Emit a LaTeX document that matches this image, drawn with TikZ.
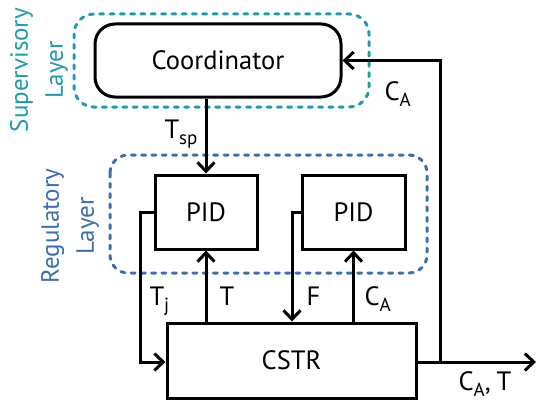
\documentclass[tikz,border=0pt]{standalone}
\usepackage{fontspec}
\setmainfont{PT Sans}
\usetikzlibrary{arrows.meta}
\definecolor{supcol}{HTML}{1E9BB0}
\definecolor{regcol}{HTML}{3B6FAF}
% variable with a lowered subscript
\newcommand{\var}[2]{#1\raisebox{-6pt}{\fontsize{19}{19}\selectfont #2}}

\begin{document}
\begin{tikzpicture}[x=1pt, y=-1pt, line width=3pt,
  font=\fontsize{26.5}{30}\selectfont,
  blockbox/.style={draw, line width=3pt, inner sep=0pt},
  layerbox/.style={line width=3pt, dash pattern=on 4pt off 6.3pt, line cap=round, rounded corners=20pt},
  flow/.style={line width=3pt, -{Straight Barb[length=9pt, width=17pt, line width=3pt]}},
  tag/.style={anchor=base west, inner sep=0pt},
  layertext/.style={rotate=90, align=center, font=\fontsize{25}{35}\selectfont}]
  \useasboundingbox (0,0) rectangle (537,404);

  % supervisory and regulatory layers
  \draw[layerbox, supcol] (74,14) rectangle (369,107);
  \draw[layerbox, regcol, rounded corners=18pt] (110,155) rectangle (427,273);
  \node[layertext, text=supcol] (suplbl) at (39,70) {Supervisory\\Layer};
  \node[layertext, text=regcol] (reglbl) at (70,226) {Regulatory\\Layer};

  % blocks
  \node[blockbox, rounded corners=20pt, minimum width=246pt, minimum height=73pt] (coord) at (218,60.5) {Coordinator};
  \node[blockbox, minimum width=102pt, minimum height=74pt] (pidT) at (206,212) {PID};
  \node[blockbox, minimum width=103pt, minimum height=74pt] (pidC) at (353.5,212) {PID};
  \node[blockbox, minimum width=249pt, minimum height=75pt] (cstr) at (291.5,360.5) {CSTR};

  % routing points
  \coordinate (tjbend) at (140,212);
  \coordinate (fbend) at (292,212);
  \coordinate (fbtop) at (440,60.5);
  \coordinate (fbbot) at (440,362);
  \coordinate (outend) at (536,362);

  % connections
  \draw[flow] (coord.south -| pidT.north) -- (pidT.north);
  \draw[flow] (pidT.west) -- (tjbend) |- (cstr.west |- fbbot);
  \draw[flow] (cstr.north -| pidT.south) -- (pidT.south);
  \draw[flow] (pidC.west) -- (fbend) -- (fbend |- cstr.north);
  \draw[flow] (cstr.north -| pidC.south) -- (pidC.south);
  \draw[flow] (cstr.east |- fbbot) -- (outend);
  \draw[flow] (fbbot) -- (fbtop) -- (coord.east);

  % signal labels
  \node[tag] (ltsp) at (163,138) {\var{T}{sp}};
  \node[tag] (lca1) at (383,100) {\var{C}{A}};
  \node[tag] (ltj) at (148,305) {\var{T}{j}};
  \node[tag] (lt) at (218,305) {T};
  \node[tag] (lf) at (305,305) {F};
  \node[tag] (lca2) at (363,305) {\var{C}{A}};
  \node[tag] (lout) at (457,390) {\var{C}{A},\hspace{6pt}T};
\end{tikzpicture}
\end{document}
